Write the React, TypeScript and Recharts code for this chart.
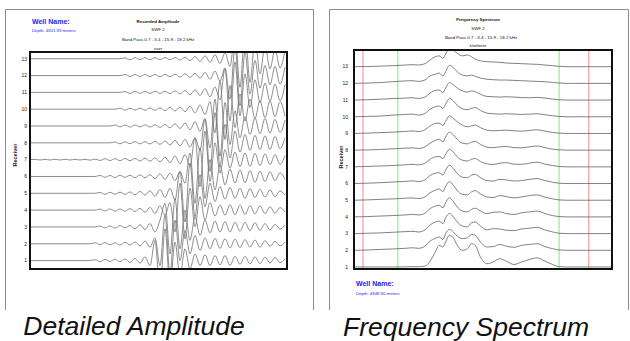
import React from 'react';
import { LineChart, Line, XAxis, YAxis, ReferenceLine } from 'recharts';

const FONT = '"Liberation Sans", Arial, sans-serif';

// ---------- shared ----------
const receiverTicks = [1, 2, 3, 4, 5, 6, 7, 8, 9, 10, 11, 12, 13];
const redCutoffs = [0.7, 18.2];
const greenCutoffs = [3.4, 15.9];

// ---------- Recorded amplitude (time samples) ----------
const timeSamples = [
  0, 5, 10, 15, 20, 25, 30, 35, 40, 45, 50, 55, 60, 65, 70, 75, 80, 85, 90, 95,
  100, 105, 110, 115, 120, 125, 130, 135, 140, 145, 150, 155, 160, 165, 170, 175, 180, 185, 190, 195,
  200, 205, 210, 215, 220, 225, 230, 235, 240, 245, 250, 255,
];

const amp1 = [
  0, 0, 0, 0, 0, 0, 0, 0, 0, 0, 0, 0, 0,
  0.05, -0.06, 0.07, -0.05, 0.08, -0.07, 0.1, -0.11, 0.13, -0.15,
  0.22, -0.3,
  1.2, -1.7, 1.9, -1.5, 1.1, -0.9, 0.7, -0.5,
  0.4, -0.3, 0.35, -0.3, 0.3, -0.25, 0.3, -0.28, 0.25, -0.22, 0.25, -0.2, 0.22, -0.18, 0.2, -0.15, 0.18, -0.12, 0.1,
];
const amp2 = [
  0, 0, 0, 0, 0, 0, 0, 0, 0, 0, 0, 0, 0,
  0.06, -0.05, 0.07, -0.06, 0.06, -0.08, 0.09, -0.07, 0.11, -0.13, 0.16,
  -0.2, 0.35,
  -1.3, 1.7, -1.8, 1.4, -1.0, 0.8, -0.6, 0.5,
  -0.4, 0.35, -0.3, 0.32, -0.28, 0.3, -0.25, 0.28, -0.22, 0.25, -0.2, 0.22, -0.2, 0.18, -0.15, 0.15, -0.12, 0.1,
];
const amp3 = [
  0, 0, 0, 0, 0, 0, 0, 0, 0, 0, 0, 0, 0, 0,
  0.05, -0.06, 0.06, -0.07, 0.08, -0.06, 0.09, -0.11, 0.13, -0.16, 0.2,
  -0.3, 0.4,
  1.4, -1.6, 1.7, -1.3, 1.0, -0.8, 0.6, -0.5,
  0.4, -0.35, 0.35, -0.3, 0.32, -0.3, 0.28, -0.25, 0.28, -0.22, 0.25, -0.2, 0.2, -0.18, 0.15, -0.12, 0.1,
];
const amp4 = [
  0, 0, 0, 0, 0, 0, 0, 0, 0, 0, 0, 0, 0, 0,
  0.06, -0.05, 0.07, -0.06, 0.07, -0.07, 0.09, -0.08, 0.11, -0.13, 0.16, -0.2, 0.25,
  -0.3, 0.45,
  -1.3, 1.6, -1.7, 1.3, -1.0, 0.8, -0.6, 0.45,
  -0.35, 0.3, -0.3, 0.32, -0.28, 0.3, -0.25, 0.25, -0.22, 0.25, -0.2, 0.2, -0.18, 0.15, -0.12,
];
const amp5 = [
  0, 0, 0, 0, 0, 0, 0, 0, 0, 0, 0, 0, 0, 0,
  0.05, -0.06, 0.06, -0.05, 0.07, -0.06, 0.08, -0.09, 0.11, -0.11, 0.15, -0.18, 0.22, -0.25,
  0.3, -0.4,
  1.3, -1.7, 1.8, -1.4, 1.1, -0.8, 0.6, -0.5,
  0.4, -0.35, 0.35, -0.3, 0.3, -0.3, 0.28, -0.25, 0.25, -0.22, 0.2, -0.2, 0.15, -0.12,
];
const amp6 = [
  0, 0, 0, 0, 0, 0, 0, 0, 0, 0, 0, 0, 0, 0,
  0.06, -0.05, 0.06, -0.06, 0.07, -0.05, 0.07, -0.07, 0.09, -0.08, 0.11, -0.13, 0.15, -0.17, 0.2, -0.25,
  0.3, -0.4,
  1.4, -1.6, 1.7, -1.3, 1.0, -0.8, 0.65, -0.5,
  0.45, -0.4, 0.4, -0.38, 0.35, -0.35, 0.32, -0.3, 0.28, -0.25, 0.22, -0.18,
];
const amp7 = [
  0, 0.02, -0.02, 0.02, -0.02, 0.02, -0.02, 0.02, -0.02, 0.02, -0.02, 0.02, -0.03, 0.03,
  -0.05, 0.06, -0.05, 0.06, -0.06, 0.07, -0.06, 0.07, -0.08, 0.09, -0.09, 0.11, -0.13, 0.15, -0.18, 0.22, -0.25,
  0.3, -0.4,
  1.3, -1.6, 1.7, -1.3, 1.0, -0.8, 0.6, -0.5,
  0.45, -0.42, 0.4, -0.4, 0.38, -0.35, 0.35, -0.3, 0.3, -0.28, 0.25,
];
const amp8 = [
  0, 0, 0, 0, 0, 0, 0, 0, 0, 0, 0, 0, 0, 0, 0, 0, 0,
  0.05, -0.06, 0.06, -0.05, 0.07, -0.06, 0.07, -0.07, 0.08, -0.09, 0.11, -0.13, 0.15, -0.18, 0.2, -0.25,
  0.3, -0.45,
  1.4, -1.7, 1.8, -1.4, 1.1, -0.9, 0.7, -0.55,
  0.5, -0.45, 0.45, -0.4, 0.42, -0.4, 0.38, -0.35, 0.3,
];
const amp9 = [
  0, 0, 0, 0, 0, 0, 0, 0, 0, 0, 0, 0, 0, 0, 0, 0, 0,
  0.06, -0.05, 0.06, -0.06, 0.06, -0.05, 0.07, -0.06, 0.07, -0.08, 0.09, -0.11, 0.13, -0.15, 0.18, -0.22, 0.26,
  -0.32, 0.45,
  -1.3, 1.6, -1.8, 1.4, -1.1, 0.9, -0.7, 0.55,
  -0.5, 0.48, -0.45, 0.45, -0.42, 0.4, -0.38, 0.35,
];
const amp10 = [
  0, 0, 0, 0, 0, 0, 0, 0, 0, 0, 0, 0, 0, 0, 0, 0, 0, 0,
  0.06, -0.06, 0.06, -0.05, 0.06, -0.06, 0.07, -0.06, 0.08, -0.09, 0.11, -0.11, 0.13, -0.15, 0.18, -0.22, 0.25,
  -0.32, 0.45,
  -1.4, 1.7, -1.8, 1.4, -1.1, 0.9, -0.7, 0.6,
  -0.55, 0.5, -0.5, 0.48, -0.45, 0.45, -0.42,
];
const amp11 = [
  0, 0, 0, 0, 0, 0, 0, 0, 0, 0, 0, 0, 0, 0, 0, 0, 0, 0, 0,
  0.05, -0.06, 0.06, -0.06, 0.05, -0.06, 0.07, -0.06, 0.07, -0.07, 0.09, -0.09, 0.11, -0.13, 0.15, -0.18, 0.22, -0.26,
  0.32, -0.45,
  1.4, -1.7, 1.8, -1.4, 1.1, -0.9, 0.75, -0.6,
  0.55, -0.52, 0.5, -0.5, 0.48,
];
const amp12 = [
  0, 0, 0, 0, 0, 0, 0, 0, 0, 0, 0, 0, 0, 0, 0, 0, 0, 0, 0,
  0.06, -0.05, 0.06, -0.06, 0.06, -0.06, 0.06, -0.07, 0.07, -0.07, 0.08, -0.09, 0.11, -0.11, 0.13, -0.15, 0.18, -0.22, 0.26,
  -0.32, 0.45,
  -1.4, 1.7, -1.8, 1.4, -1.1, 0.9, -0.75, 0.6,
  -0.55, 0.55, -0.5, 0.5,
];
const amp13 = [
  0, 0, 0, 0, 0, 0, 0, 0, 0, 0, 0, 0, 0, 0, 0, 0, 0, 0, 0,
  0.05, -0.06, 0.06, -0.05, 0.06, -0.06, 0.06, -0.06, 0.07, -0.06, 0.07, -0.08, 0.09, -0.11, 0.13, -0.15, 0.17, -0.2, 0.24, -0.28,
  0.35, -0.45,
  1.5, -1.7, 1.8, -1.4, 1.1, -0.9, 0.75, -0.6,
  0.55, -0.55, 0.5,
];

// ---------- Frequency spectrum (kHz) ----------
const freqs = [
  0, 1, 2, 3, 4, 4.5, 5, 5.5, 5.9, 6.3,
  6.6, 6.9, 7.1, 7.4, 7.7, 8.0, 8.4, 8.8, 9.1, 9.4,
  9.8, 10.3, 10.8, 11.3, 11.8, 12.4, 13.0, 13.6, 14.2, 14.8,
  15.4, 15.9, 16.5, 17, 18, 20,
];

const spec1 = [
  0, 0, 0, 0, 0.01, 0.02, 0.02, 0.05, 0.35, 0.9,
  1.3, 1.2, 1.5, 1.9, 1.75, 1.3, 1.0, 1.1, 1.4, 1.3,
  0.6, 0.2, 0.3, 0.5, 0.35, 0.15, 0.3, 0.45, 0.55, 0.35,
  0.15, 0.02, 0, 0, 0, 0,
];
const spec2 = [
  0, 0.02, 0.05, 0.08, 0.12, 0.15, 0.12, 0.25, 0.55, 0.72,
  0.8, 0.65, 1.0, 1.25, 1.1, 0.85, 0.7, 0.75, 0.95, 0.9,
  0.5, 0.2, 0.22, 0.35, 0.25, 0.18, 0.3, 0.35, 0.4, 0.22,
  0.1, 0.02, 0, 0, 0, 0,
];
const spec3 = [
  0, 0.02, 0.04, 0.08, 0.12, 0.14, 0.1, 0.22, 0.52, 0.7,
  0.75, 0.6, 0.95, 1.2, 1.0, 0.7, 0.45, 0.4, 0.65, 0.7,
  0.45, 0.22, 0.3, 0.28, 0.2, 0.18, 0.28, 0.32, 0.38, 0.22,
  0.1, 0.02, 0, 0, 0, 0,
];
const spec4 = [
  0, 0.02, 0.05, 0.08, 0.12, 0.15, 0.12, 0.22, 0.5, 0.65,
  0.7, 0.55, 0.85, 1.15, 0.92, 0.6, 0.35, 0.3, 0.45, 0.52,
  0.35, 0.2, 0.28, 0.3, 0.2, 0.15, 0.25, 0.3, 0.35, 0.2,
  0.08, 0.02, 0, 0, 0, 0,
];
const spec5 = [
  0, 0.02, 0.05, 0.08, 0.12, 0.14, 0.1, 0.2, 0.45, 0.6,
  0.68, 0.52, 0.82, 1.12, 0.9, 0.58, 0.35, 0.32, 0.5, 0.58,
  0.38, 0.2, 0.16, 0.28, 0.22, 0.14, 0.2, 0.28, 0.32, 0.18,
  0.08, 0.02, 0, 0, 0, 0,
];
const spec6 = [
  0, 0.02, 0.05, 0.09, 0.13, 0.16, 0.12, 0.22, 0.48, 0.62,
  0.65, 0.5, 0.8, 1.1, 0.9, 0.6, 0.38, 0.35, 0.5, 0.55,
  0.35, 0.18, 0.15, 0.25, 0.22, 0.15, 0.18, 0.25, 0.3, 0.18,
  0.08, 0.02, 0, 0, 0, 0,
];
const spec7 = [
  0, 0.02, 0.05, 0.08, 0.12, 0.15, 0.12, 0.22, 0.45, 0.6,
  0.62, 0.5, 0.75, 1.05, 0.88, 0.6, 0.4, 0.35, 0.45, 0.5,
  0.32, 0.18, 0.14, 0.22, 0.25, 0.16, 0.15, 0.22, 0.28, 0.16,
  0.08, 0.02, 0, 0, 0, 0,
];
const spec8 = [
  0, 0.01, 0.04, 0.08, 0.12, 0.14, 0.1, 0.2, 0.42, 0.58,
  0.65, 0.5, 0.78, 1.08, 0.92, 0.65, 0.42, 0.38, 0.48, 0.52,
  0.35, 0.18, 0.15, 0.2, 0.22, 0.15, 0.14, 0.2, 0.25, 0.15,
  0.06, 0.02, 0, 0, 0, 0,
];
const spec9 = [
  0, 0.02, 0.05, 0.08, 0.12, 0.15, 0.12, 0.22, 0.45, 0.6,
  0.62, 0.48, 0.72, 1.05, 0.9, 0.7, 0.5, 0.4, 0.45, 0.5,
  0.35, 0.2, 0.16, 0.18, 0.2, 0.16, 0.14, 0.18, 0.22, 0.14,
  0.06, 0.02, 0, 0, 0, 0,
];
const spec10 = [
  0, 0.02, 0.04, 0.1, 0.14, 0.16, 0.1, 0.2, 0.45, 0.6,
  0.65, 0.5, 0.75, 1.1, 0.95, 0.7, 0.48, 0.42, 0.5, 0.55,
  0.38, 0.22, 0.18, 0.16, 0.18, 0.16, 0.14, 0.16, 0.18, 0.12,
  0.06, 0.02, 0, 0, 0, 0,
];
const spec11 = [
  0, 0.02, 0.05, 0.09, 0.12, 0.14, 0.1, 0.18, 0.42, 0.58,
  0.6, 0.45, 0.72, 1.05, 0.92, 0.72, 0.55, 0.48, 0.55, 0.5,
  0.35, 0.22, 0.2, 0.18, 0.2, 0.18, 0.15, 0.14, 0.16, 0.12,
  0.06, 0.02, 0, 0, 0, 0,
];
const spec12 = [
  0, 0.02, 0.05, 0.1, 0.15, 0.16, 0.12, 0.2, 0.45, 0.55,
  0.62, 0.45, 0.7, 1.08, 0.95, 0.7, 0.5, 0.45, 0.5, 0.42,
  0.32, 0.25, 0.22, 0.2, 0.2, 0.18, 0.16, 0.14, 0.12, 0.1,
  0.06, 0.02, 0, 0, 0, 0,
];
const spec13 = [
  0, 0.01, 0.03, 0.06, 0.1, 0.12, 0.1, 0.18, 0.4, 0.6,
  0.65, 0.5, 0.75, 1.1, 1.0, 0.8, 0.65, 0.7, 0.6, 0.45,
  0.35, 0.3, 0.28, 0.26, 0.22, 0.2, 0.18, 0.16, 0.14, 0.1,
  0.06, 0.02, 0, 0, 0, 0,
];

const ampTraces = [amp1, amp2, amp3, amp4, amp5, amp6, amp7, amp8, amp9, amp10, amp11, amp12, amp13];
const specTraces = [spec1, spec2, spec3, spec4, spec5, spec6, spec7, spec8, spec9, spec10, spec11, spec12, spec13];

const ampData = timeSamples.map((t, i) => {
  const row: Record<string, number> = { t };
  ampTraces.forEach((tr, k) => {
    row['r' + receiverTicks[k]] = receiverTicks[k] + (tr[i] ?? 0);
  });
  return row;
});

const specData = freqs.map((f, i) => {
  const row: Record<string, number> = { f };
  specTraces.forEach((tr, k) => {
    row['r' + receiverTicks[k]] = receiverTicks[k] + (tr[i] ?? 0);
  });
  return row;
});

const BLUE = '#2424f0';
const tickStyle = { fontSize: 5, fill: '#222', fontFamily: FONT };

export default function App() {
  return (
    <div
      style={{
        position: 'absolute',
        left: 0,
        top: 0,
        width: 630,
        height: 341,
        background: '#fff',
        fontFamily: FONT,
        overflow: 'hidden',
      }}
    >
      <div style={{ position: 'absolute', left: 0, top: 0 }}>
        <LineChart width={315} height={300} data={ampData} margin={{ top: 52, right: 28, bottom: 31, left: 0 }}>
          <XAxis dataKey="t" type="number" domain={[0, 257]} hide allowDataOverflow />
          <YAxis
            type="number"
            domain={[0.5, 13.4]}
            ticks={receiverTicks}
            allowDataOverflow
            width={30}
            tickLine={false}
            axisLine={false}
            tickSize={0}
            tickMargin={3}
            tick={tickStyle}
            interval={0}
          />
          {receiverTicks.map((r) => (
            <Line
              key={r}
              dataKey={'r' + r}
              type="monotone"
              stroke="#787878"
              strokeWidth={0.85}
              dot={false}
              activeDot={false}
              isAnimationActive={false}
            />
          ))}
        </LineChart>
      </div>

      <div style={{ position: 'absolute', left: 315, top: 0 }}>
        <LineChart width={315} height={300} data={specData} margin={{ top: 50, right: 18, bottom: 31, left: 9 }}>
          <XAxis dataKey="f" type="number" domain={[0, 20]} hide allowDataOverflow />
          <YAxis
            type="number"
            domain={[0.88, 14]}
            ticks={receiverTicks}
            allowDataOverflow
            width={30}
            tickLine={false}
            axisLine={false}
            tickSize={0}
            tickMargin={6}
            tick={tickStyle}
            interval={0}
          />
          {redCutoffs.map((f) => (
            <ReferenceLine key={'r' + f} x={f} stroke="#f08a8a" strokeWidth={1} ifOverflow="hidden" />
          ))}
          {greenCutoffs.map((f) => (
            <ReferenceLine key={'g' + f} x={f} stroke="#9be89b" strokeWidth={1.2} ifOverflow="hidden" />
          ))}
          {receiverTicks.map((r) => (
            <Line
              key={r}
              dataKey={'r' + r}
              type="monotone"
              stroke="#6a6a6a"
              strokeWidth={0.85}
              dot={false}
              activeDot={false}
              isAnimationActive={false}
            />
          ))}
        </LineChart>
      </div>

      <svg
        width={630}
        height={341}
        style={{ position: 'absolute', left: 0, top: 0, pointerEvents: 'none' }}
        fontFamily={FONT}
      >
        {/* panel frames */}
        <path d="M5.5 310 V9.5 H313.5 V310" fill="none" stroke="#8c8c8c" strokeWidth={1} />
        <path d="M329.5 310 V9.5 H628.5 V310" fill="none" stroke="#8c8c8c" strokeWidth={1} />
        {/* plot borders */}
        <rect x={30} y={52} width={257} height={217} fill="none" stroke="#111" strokeWidth={2} />
        <rect x={354} y={50} width={258} height={219} fill="none" stroke="#111" strokeWidth={2} />

        {/* left header */}
        <text x={32} y={23.5} fontSize={7} fontWeight="bold" fill={BLUE}>Well Name:</text>
        <text x={32} y={31.5} fontSize={4.3} fill={BLUE}>Depth: 4821.93 meters</text>
        <g fontSize={4.4} fill="#111" textAnchor="middle">
          <text x={158} y={23} fontWeight="bold">Recorded Amplitude</text>
          <text x={158} y={31}>SWF 2</text>
          <text x={158} y={40.5}>Band Pass 0.7 - 3.4 - 15.9 - 18.2 kHz</text>
          <text x={158} y={49.5}>user</text>
        </g>
        <text
          x={17}
          y={155}
          fontSize={5.5}
          fontWeight="bold"
          fill="#222"
          textAnchor="middle"
          transform="rotate(-90 17 155)"
        >
          Receiver
        </text>

        {/* right header */}
        <g fontSize={4.4} fill="#111" textAnchor="middle">
          <text x={478} y={21} fontWeight="bold">Frequency Spectrum</text>
          <text x={478} y={29.5}>SWF 2</text>
          <text x={481} y={38.5}>Band Pass 0.7 - 3.4 - 15.9 - 18.2 kHz</text>
          <text x={478} y={47}>kilohertz</text>
        </g>
        <text
          x={343}
          y={157}
          fontSize={5.5}
          fontWeight="bold"
          fill="#222"
          textAnchor="middle"
          transform="rotate(-90 343 157)"
        >
          Receiver
        </text>
        <text x={356} y={285.5} fontSize={7} fontWeight="bold" fill={BLUE}>Well Name:</text>
        <text x={356} y={295} fontSize={4.3} fill={BLUE}>Depth: 4848.90 meters</text>

        {/* captions */}
        <text x={134} y={335} fontSize={26.5} fontStyle="italic" fill="#111" textAnchor="middle">
          Detailed Amplitude
        </text>
        <text x={466} y={336} fontSize={26.5} fontStyle="italic" fill="#111" textAnchor="middle">
          Frequency Spectrum
        </text>
      </svg>
    </div>
  );
}
